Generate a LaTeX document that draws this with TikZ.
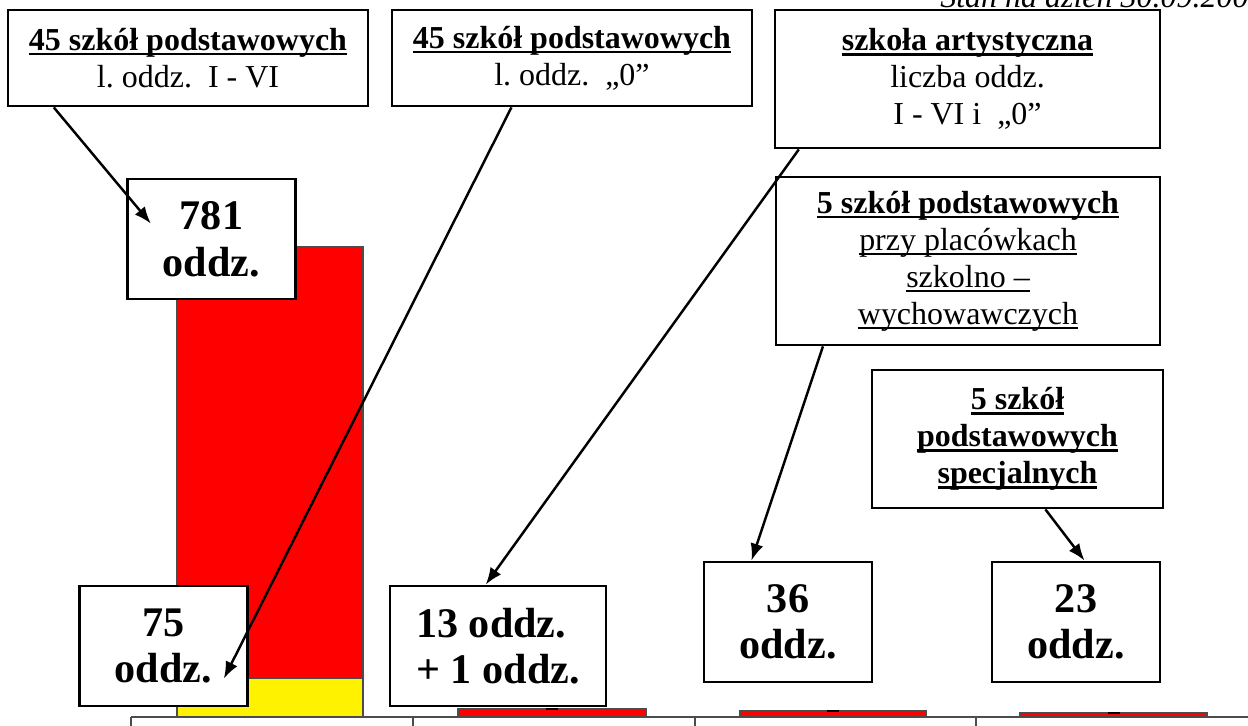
\documentclass[tikz,border=0pt]{standalone}
\usepackage{fontspec}
\setmainfont{Liberation Serif}
\usetikzlibrary{arrows.meta,calc}
% underline at a fixed depth
\newcommand{\podkr}[2][0.075em]{\setbox0\hbox{#2}\rlap{\rule[-0.155em]{\wd0}{#1}}\box0}
\begin{document}
\begin{tikzpicture}[x=0.02cm,y=-0.02cm,
  opis/.style={draw,line width=1.6pt,fill=white,align=center,inner sep=0pt,
    font=\fontsize{18.2}{21}\selectfont\frenchspacing},
  liczba/.style={draw,line width=1.6pt,fill=white,align=center,inner sep=0pt,
    minimum width=3.37cm,minimum height=2.4cm,
    font=\bfseries\fontsize{24}{26.5}\selectfont},
  strz/.style={-{Latex[length=0.34cm,width=0.26cm]},line width=1.4pt},
  slupek/.style={draw=black!70,line width=0.8pt}]
\useasboundingbox (0,0) rectangle (1248,725);
% the bars
\draw[slupek,fill=red] (177,247) rectangle (363,678);
\draw[slupek,fill=yellow] (177,678) rectangle (363,717);
\foreach \a/\b/\g in {458/646/709,740/926/711,1020/1207/713}{
  \draw[slupek,fill=red] (\a,\g) rectangle (\b,717);
  \draw[line width=1.2pt] ({(\a+\b)/2-6},\g) -- ({(\a+\b)/2+6},\g);
}
% the axis and the table lines
\draw[black!70,line width=1pt] (131,717) -- (1250,717);
\foreach \x in {131,413,695,976}
  \draw[black!70,line width=1pt] (\x,717) -- (\x,730);
% the date, cut off at the top
\node[anchor=base west,inner sep=0pt,font=\itshape\fontsize{18.2}{21}\selectfont] (stan) at (940,7) {Stan na dzień 30.09.200};
% the descriptions
\node[opis,minimum width=7.2cm,minimum height=1.92cm] (szkA) at (188,58) {\podkr{\bfseries 45 szkół podstawowych}\\l. oddz.\ \ I - VI};
\node[opis,minimum width=7.2cm,minimum height=1.92cm] (szkB) at (572,58) {\podkr{\bfseries 45 szkół podstawowych}\\l. oddz.\ \ „0”};
\node[opis,minimum width=7.7cm,minimum height=2.76cm] (szkC) at (967.5,79) {\podkr{\bfseries szkoła artystyczna}\\liczba oddz.\\I - VI i\ \ „0”};
\node[opis,minimum width=7.68cm,minimum height=3.36cm] (szkD) at (968,261) {\podkr{\bfseries 5 szkół podstawowych}\\\podkr[0.055em]{przy placówkach}\\\podkr[0.055em]{szkolno –}\\\podkr[0.055em]{wychowawczych}};
\node[opis,minimum width=5.82cm,minimum height=2.76cm] (szkE) at (1017.5,439) {\podkr{\bfseries 5 szkół}\\\podkr{\bfseries podstawowych}\\\podkr{\bfseries specjalnych}};
% the numbers
\node[liczba] (n781) at (211.5,239) {781\\oddz.};
\node[liczba] (n75) at (163.5,646) {75\\oddz.};
\node[liczba,minimum width=4.32cm,align=left] (n13) at (498,646) {13 oddz.\\+ 1 oddz.};
\node[liczba,minimum width=3.36cm] (n36) at (788,622) {36\\oddz.};
\node[liczba,minimum width=3.36cm] (n23) at (1076,622) {23\\oddz.};
% the arrows
\draw[strz] ($(szkA.south west)!0.13!(szkA.south east)$) -- ($(n781.north west)+(25,46)$);
\draw[strz] ($(szkB.south west)!0.333!(szkB.south east)$) -- ($(n75.north west)+(146,94)$);
\draw[strz] ($(szkC.south west)!0.065!(szkC.south east)$) -- ($(n13.north west)!0.444!(n13.north east)$);
\draw[strz] ($(szkD.south west)!0.125!(szkD.south east)$) -- ($(n36.north west)!0.286!(n36.north east)$);
\draw[strz] ($(szkE.south west)!0.595!(szkE.south east)$) -- ($(n23.north west)!0.55!(n23.north east)$);
\end{tikzpicture}
\end{document}
